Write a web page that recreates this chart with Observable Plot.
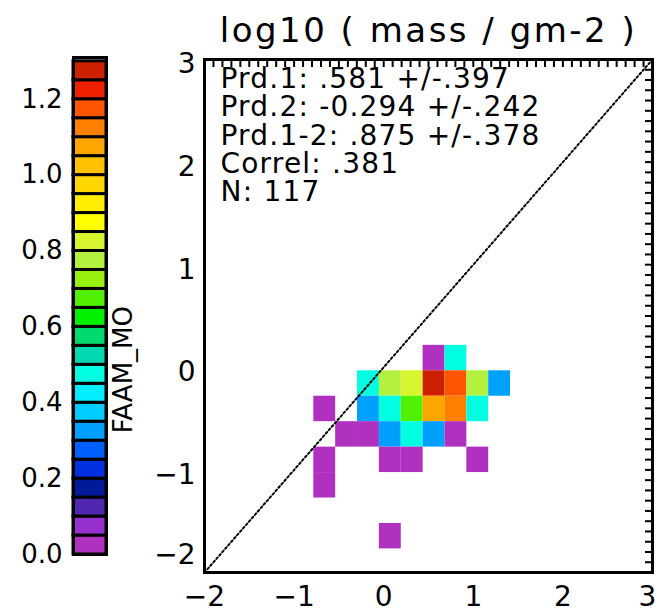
<!DOCTYPE html>
<html>
<head>
<meta charset="utf-8">
<script src="https://cdn.jsdelivr.net/npm/d3@7"></script>
<script src="https://cdn.jsdelivr.net/npm/@observablehq/plot@0.6"></script>
<style>
  html, body { margin: 0; padding: 0; background: #fff; }
  #chart { position: relative; width: 659px; height: 612px; overflow: hidden; background: #fff; }
  #chart svg { position: absolute; top: 0; left: 0; }
</style>
</head>
<body>
<div id="chart"></div>
<script>
// ---------------- data ----------------
const titleText = "log10 ( mass / gm-2 )";
const colorbarLabel = "FAAM_MO";
const statsLines = [
  "Prd.1: .581 +/-.397",
  "Prd.2: -0.294 +/-.242",
  "Prd.1-2: .875 +/-.378",
  "Correl: .381",
  "N: 117"
];
const axisTicks = [-2, -1, 0, 1, 2, 3];
const colorbarTicks = [0, 0.2, 0.4, 0.6, 0.8, 1.0, 1.2];

// colour levels of the bar, bottom to top (each 0.05 wide)
const levelStep = 0.05;
const levelColors = ["#b030c0","#9830d0","#5028b0","#001a99","#0030e0","#0060ff","#00a0ff","#00ccff",
  "#00eeff","#00ffe0","#00d8b0","#00d870","#00f000","#50f000","#98f010","#b4f040","#d8f530",
  "#ffff00","#ffee00","#ffd700","#ffc000","#ffa500","#ff8000","#ff5500","#ee2000","#cc2000"];

// 2-D histogram cells (bin centres, data units) and their values
const binWidthX = 0.244;
const binWidthY = 0.248;
const cellX = [0.562, 0.806,
  -0.170, 0.074, 0.318, 0.562, 0.806, 1.050, 1.294,
  -0.658, -0.170, 0.074, 0.318, 0.562, 0.806, 1.050,
  -0.414, -0.170, 0.074, 0.318, 0.562, 0.806,
  -0.658, 0.074, 0.318, 1.050,
  -0.658,
  0.074];
const cellY = [0.090, 0.090,
  -0.158, -0.158, -0.158, -0.158, -0.158, -0.158, -0.158,
  -0.406, -0.406, -0.406, -0.406, -0.406, -0.406, -0.406,
  -0.654, -0.654, -0.654, -0.654, -0.654, -0.654,
  -0.902, -0.902, -0.902, -0.902,
  -1.150,
  -1.646];
const cellValue = [0.02, 0.47,
  0.47, 0.77, 0.82, 1.27, 1.17, 0.77, 0.32,
  0.02, 0.32, 0.47, 0.67, 1.07, 1.12, 0.47,
  0.02, 0.02, 0.32, 0.47, 0.32, 0.02,
  0.02, 0.02, 0.02, 0.02,
  0.02,
  0.02];

// ---------------- build ----------------
const cells = cellX.map((x, i) => ({x, y: cellY[i], v: cellValue[i]}));
const thresholds = levelColors.slice(1).map((_, i) => +((i + 1) * levelStep).toFixed(2));
const levels = levelColors.map((c, i) => ({lo: i * levelStep, hi: (i + 1) * levelStep, c}));
const lo = axisTicks[0], hi = axisTicks[axisTicks.length - 1];
const oneToOne = [lo, hi].map(v => ({x: v, y: v}));
const minorTicks = d3.range(-20, 31).map(k => k / 10);
const intFmt = d => (d < 0 ? "\u2212" : "") + Math.abs(d);

const font = "DejaVu Sans";

const main = Plot.plot({
  width: 659, height: 612,
  marginLeft: 204, marginRight: 7, marginTop: 59, marginBottom: 40,
  x: {domain: [lo, hi], label: null},
  y: {domain: [lo, hi], label: null},
  color: {type: "threshold", domain: thresholds, range: levelColors},
  style: {fontFamily: font, fontSize: "28px", background: "transparent", color: "black", overflow: "visible"},
  marks: [
    Plot.rect(cells, {
      x1: d => d.x - binWidthX / 2, x2: d => d.x + binWidthX / 2,
      y1: d => d.y - binWidthY / 2, y2: d => d.y + binWidthY / 2,
      fill: "v"
    }),
    Plot.line(oneToOne, {x: "x", y: "y", stroke: "black", strokeWidth: 2, strokeDasharray: "2,2.5"}),
    Plot.tickX(minorTicks, {x: d => d, stroke: "black", strokeWidth: 2, insetBottom: 505}),
    Plot.tickY(minorTicks, {y: d => d, stroke: "black", strokeWidth: 2, insetLeft: 441}),
    Plot.axisX({anchor: "bottom", ticks: axisTicks.slice(0, -1), tickFormat: intFmt, tickSize: 0, tickPadding: 14, label: null}),
    Plot.axisX({anchor: "bottom", ticks: axisTicks.slice(-1), tickFormat: intFmt, tickSize: 0, tickPadding: 14, dx: -5, label: null}),
    Plot.axisY({anchor: "left", ticks: axisTicks.slice(1), tickFormat: intFmt, tickSize: 0, tickPadding: 9, dy: 5, label: null}),
    Plot.axisY({anchor: "left", ticks: axisTicks.slice(0, 1), tickFormat: intFmt, tickSize: 0, tickPadding: 9, dy: -17, label: null}),
    Plot.frame({stroke: "black", strokeWidth: 3}),
    Plot.text([statsLines.join("\n")], {
      frameAnchor: "top-left", textAnchor: "start", lineAnchor: "top",
      dx: 16, dy: 8.5, fontSize: 28, lineHeight: 1.01, fill: "black"
    }),
    Plot.text([titleText], {
      frameAnchor: "top", lineAnchor: "middle", dy: -28, fontSize: 34, fill: "black"
    })
  ]
});

const bar = Plot.plot({
  width: 160, height: 612,
  marginLeft: 73, marginRight: 54, marginTop: 57, marginBottom: 58,
  x: {domain: [0, 1], axis: null},
  y: {domain: [0, 1.31], label: null},
  style: {fontFamily: font, fontSize: "26px", background: "transparent", color: "black", overflow: "visible"},
  marks: [
    Plot.rect(levels, {x1: 0, x2: 1, y1: "lo", y2: "hi", fill: "c", stroke: "black", strokeWidth: 3}),
    Plot.frame({stroke: "black", strokeWidth: 3}),
    Plot.axisY({anchor: "left", ticks: colorbarTicks, tickFormat: d3.format(".1f"), tickSize: 0, tickPadding: 11, label: null}),
    Plot.text([colorbarLabel], {frameAnchor: "right", rotate: -90, dx: 17, fontSize: 26, fill: "black"})
  ]
});

const chart = document.getElementById("chart");
chart.appendChild(main);
chart.appendChild(bar);

// widen letter spacing like the original bitmap font
d3.select(main).selectAll("text").filter(function() { return this.textContent === titleText; })
  .style("letter-spacing", "2.5px");
d3.select(main).selectAll("text").filter(function() { return this.querySelector && this.querySelector("tspan"); })
  .style("letter-spacing", "1.2px");
</script>
</body>
</html>
